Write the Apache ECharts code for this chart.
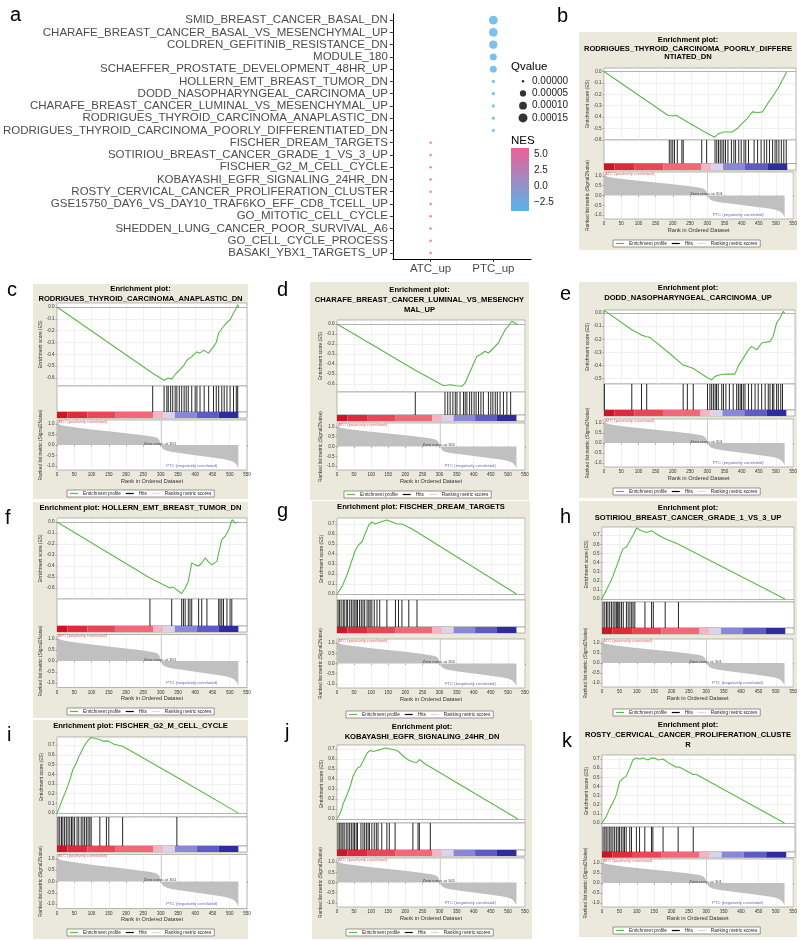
<!DOCTYPE html>
<html><head><meta charset="utf-8">
<script src="https://cdn.jsdelivr.net/npm/echarts@6/dist/echarts.min.js"></script>
<style>html,body{margin:0;padding:0;background:#fff}#chart{width:800px;height:941px}</style>
</head><body><div id="chart"></div>
<script>
// ---------------- Panel a data ----------------
const termNames = ['SMID_BREAST_CANCER_BASAL_DN','CHARAFE_BREAST_CANCER_BASAL_VS_MESENCHYMAL_UP','COLDREN_GEFITINIB_RESISTANCE_DN','MODULE_180','SCHAEFFER_PROSTATE_DEVELOPMENT_48HR_UP','HOLLERN_EMT_BREAST_TUMOR_DN','DODD_NASOPHARYNGEAL_CARCINOMA_UP','CHARAFE_BREAST_CANCER_LUMINAL_VS_MESENCHYMAL_UP','RODRIGUES_THYROID_CARCINOMA_ANAPLASTIC_DN','RODRIGUES_THYROID_CARCINOMA_POORLY_DIFFERENTIATED_DN','FISCHER_DREAM_TARGETS','SOTIRIOU_BREAST_CANCER_GRADE_1_VS_3_UP','FISCHER_G2_M_CELL_CYCLE','KOBAYASHI_EGFR_SIGNALING_24HR_DN','ROSTY_CERVICAL_CANCER_PROLIFERATION_CLUSTER','GSE15750_DAY6_VS_DAY10_TRAF6KO_EFF_CD8_TCELL_UP','GO_MITOTIC_CELL_CYCLE','SHEDDEN_LUNG_CANCER_POOR_SURVIVAL_A6','GO_CELL_CYCLE_PROCESS','BASAKI_YBX1_TARGETS_UP'];
const groupNames = ['ATC_up','PTC_up'];
const termGroup = ['PTC_up','PTC_up','PTC_up','PTC_up','PTC_up','PTC_up','PTC_up','PTC_up','PTC_up','PTC_up','ATC_up','ATC_up','ATC_up','ATC_up','ATC_up','ATC_up','ATC_up','ATC_up','ATC_up','ATC_up'];
const termQ = [0.000140,0.000135,0.000115,0.000070,0.000070,0.000002,0.000002,0.000001,0.000001,0.000001,0,0,0,0,0,0,0,0,0,0];
const termNES = [-3.7,-3.8,-3.7,-3.6,-3.6,-3.8,-3.9,-3.8,-3.9,-3.8,5.9,5.8,5.9,5.8,5.7,5.6,5.8,5.7,5.9,5.6];
const qLegendValues = [0, 0.00005, 0.00010, 0.00015];
const nesTicks = [-2.5, 0, 2.5, 5];
const nesRange = [-3.9, 5.95];

// ---------------- shared GSEA data ----------------
const metricRanks  = [0,3,10,30,60,100,150,200,250,275,288,295,299,301,303,308,318,335,360,400,450,480,500,512,520,525];
const metricValues = [1.08,1.02,0.96,0.9,0.83,0.75,0.66,0.57,0.47,0.41,0.36,0.28,0.14,0,-0.1,-0.2,-0.28,-0.34,-0.4,-0.49,-0.6,-0.67,-0.74,-0.82,-0.95,-1.12];
const cbarStarts = [0,30,88,170,278,307,341,404,468];
const cbarEnds   = [30,88,170,278,307,341,404,468,525];
const cbarColors = ['#cc1626','#df2a3c','#ea4656','#f26878','#f6b4c4','#dcd2ec','#8a88d6','#5e5cc2','#2e2c9e'];
const rankXTicksMax = 550;
const zeroCross = 301;
const esTicksNeg6 = [0,-0.1,-0.2,-0.3,-0.4,-0.5,-0.6];
const esTicksNeg5 = [0,-0.1,-0.2,-0.3,-0.4,-0.5];
const esTicksPos7 = [0,0.1,0.2,0.3,0.4,0.5,0.6,0.7];
const metricTicks = [-1,-0.5,0,0.5,1];
const rankNotes = ['ATC (positively correlated)','Zero cross at 301','PTC (negatively correlated)'];
const rankNoteRanks = [3, 298, 390];
const rankNoteValues = [1.13, 0.07, -1.0];

// ---------------- per-panel GSEA data ----------------
const titleB = ['Enrichment plot:','RODRIGUES_THYROID_CARCINOMA_POORLY_DIFFERE','NTIATED_DN'];
const esRanksB  = [0,183,197,207,221,260,289,317,328,343,367,382,396,411,425,440,454,469,483,498,513,524];
const esValuesB = [0,-0.383,-0.39,-0.383,-0.41,-0.48,-0.53,-0.575,-0.545,-0.53,-0.53,-0.5,-0.455,-0.41,-0.354,-0.36,-0.354,-0.28,-0.22,-0.15,-0.064,0];
const hitsB = [187,192,197,202,210,223,227,280,294,318,323,328,333,338,343,348,355,365,372,377,386,393,401,406,414,430,440,450,459,466,474,483,490,495,501,508,515,522];

const titleC = ['Enrichment plot:','RODRIGUES_THYROID_CARCINOMA_ANAPLASTIC_DN'];
const esRanksC  = [0,277,280,310,313,322,332,345,356,368,376,390,405,414,424,439,453,461,468,482,492,501,511,519,523,526];
const esValuesC = [0,-0.56,-0.55,-0.62,-0.634,-0.6,-0.61,-0.56,-0.53,-0.49,-0.45,-0.42,-0.38,-0.39,-0.365,-0.39,-0.335,-0.3,-0.22,-0.165,-0.13,-0.108,-0.05,-0.01,0.02,-0.005];
const hitsC = [277,310,318,322,329,335,342,347,354,361,368,374,380,390,400,405,414,426,439,453,461,468,477,484,492,501,511,519,523];

const titleD = ['Enrichment plot:','CHARAFE_BREAST_CANCER_LUMINAL_VS_MESENCHY','MAL_UP'];
const esRanksD  = [0,228,230,312,331,350,365,375,385,394,409,419,433,443,458,472,482,492,501,511,521,528];
const esValuesD = [0,-0.46,-0.45,-0.617,-0.607,-0.617,-0.623,-0.59,-0.507,-0.44,-0.323,-0.307,-0.273,-0.29,-0.24,-0.19,-0.123,-0.057,-0.023,0.027,0.01,-0.005];
const hitsD = [229,316,324,331,339,346,351,360,370,375,380,388,394,401,407,414,421,428,443,450,456,463,469,477,487,497,508];

const titleE = ['Enrichment plot:','DODD_NASOPHARYNGEAL_CARCINOMA_UP'];
const esRanksE  = [0,1,80,81,108,109,123,124,132,190,227,228,239,240,256,257,297,310,320,334,353,377,386,401,416,425,440,454,478,487,497,507,516,520];
const esValuesE = [0,0.02,-0.127,-0.112,-0.168,-0.153,-0.18,-0.167,-0.185,-0.31,-0.395,-0.38,-0.405,-0.39,-0.42,-0.405,-0.49,-0.508,-0.482,-0.47,-0.465,-0.465,-0.406,-0.343,-0.28,-0.254,-0.28,-0.228,-0.216,-0.178,-0.076,-0.038,0.013,0];
const hitsE = [1,80,108,123,228,240,257,298,305,310,315,320,324,329,339,344,351,361,372,382,387,392,396,401,406,416,425,435,444,454,464,473,478,485,489,497,502,509,514];

const titleF = ['Enrichment plot: HOLLERN_EMT_BREAST_TUMOR_DN'];
const esRanksF  = [0,269,274,327,335,361,371,380,390,400,410,419,429,438,448,463,468,477,487,497,507,517,523];
const esValuesF = [0,-0.51,-0.494,-0.6,-0.59,-0.65,-0.6,-0.54,-0.373,-0.39,-0.4,-0.373,-0.327,-0.36,-0.39,-0.358,-0.28,-0.16,-0.13,-0.07,0.02,-0.01,0];
const hitsF = [269,332,361,366,371,380,385,390,410,419,434,468,472,477,482,492,501,506];

const titleG = ['Enrichment plot: FISCHER_DREAM_TARGETS'];
const esRanksG  = [0,15,29,44,54,63,73,83,93,102,112,127,146,161,175,190,214,234,525];
const esValuesG = [0,0.076,0.19,0.34,0.44,0.49,0.52,0.61,0.69,0.72,0.7,0.72,0.74,0.72,0.7,0.7,0.66,0.62,0];
const hitsG = [3,7,12,18,21,27,31,37,42,47,52,56,60,66,71,76,81,88,93,97,102,109,117,125,146,171,180,190,210,234];

const titleH = ['Enrichment plot:','SOTIRIOU_BREAST_CANCER_GRADE_1_VS_3_UP'];
const esRanksH  = [0,3,13,27,41,51,60,70,80,89,99,113,128,142,157,181,219,524];
const esValuesH = [0,0.03,0.1,0.21,0.35,0.46,0.55,0.57,0.64,0.7,0.78,0.75,0.73,0.75,0.71,0.66,0.6,0];
const hitsH = [3,8,13,17,22,27,32,37,41,44,48,51,56,61,70,75,80,85,89,94,123,142,147,181,219];

const titleI = ['Enrichment plot: FISCHER_G2_M_CELL_CYCLE'];
const esRanksI  = [0,3,8,17,27,37,46,56,63,70,80,90,99,110,124,135,143,150,165,190,347,348,525];
const esValuesI = [0,0.02,0.07,0.155,0.24,0.34,0.45,0.52,0.58,0.63,0.7,0.75,0.78,0.77,0.76,0.74,0.745,0.74,0.71,0.69,0.37,0.385,0];
const hitsI = [3,8,13,17,22,27,32,37,42,46,51,58,63,70,75,80,85,90,95,99,124,143,150,190,347];

const titleJ = ['Enrichment plot:','KOBAYASHI_EGFR_SIGNALING_24HR_DN'];
const esRanksJ  = [0,10,19,29,39,47,54,60,68,78,88,97,107,117,127,141,156,170,180,195,209,222,224,234,237,241,243,258,273,529];
const esValuesJ = [0,0.06,0.16,0.24,0.33,0.43,0.475,0.51,0.525,0.59,0.66,0.685,0.675,0.685,0.694,0.71,0.7,0.69,0.675,0.625,0.59,0.57,0.585,0.565,0.58,0.595,0.585,0.55,0.52,0];
const hitsJ = [3,8,12,17,21,27,32,37,42,47,51,56,60,70,76,81,86,91,95,102,109,115,120,131,146,153,170,222,237,241,273];

const titleK = ['Enrichment plot:','ROSTY_CERVICAL_CANCER_PROLIFERATION_CLUSTE','R'];
const esRanksK  = [0,12,22,31,41,50,60,69,79,88,98,107,117,131,141,150,160,174,193,212,217,218,231,250,260,261,269,520];
const esValuesK = [0,0.07,0.16,0.22,0.31,0.45,0.49,0.51,0.6,0.69,0.71,0.7,0.71,0.69,0.71,0.71,0.69,0.7,0.65,0.61,0.6,0.615,0.59,0.55,0.53,0.545,0.53,0];
const hitsK = [3,8,12,17,22,26,31,36,41,46,50,55,60,64,69,79,84,98,107,122,141,145,174,217,260];

const legendNames = ['Enrichment profile','Hits','Ranking metric scores'];

// ---------------- layout ----------------
const FONT = "'Liberation Sans', Arial, Helvetica, sans-serif";
const panelData = {
  b:{title:titleB, r:esRanksB, v:esValuesB, hits:hitsB, ticks:esTicksNeg6},
  c:{title:titleC, r:esRanksC, v:esValuesC, hits:hitsC, ticks:esTicksNeg6},
  d:{title:titleD, r:esRanksD, v:esValuesD, hits:hitsD, ticks:esTicksNeg6},
  e:{title:titleE, r:esRanksE, v:esValuesE, hits:hitsE, ticks:esTicksNeg5},
  f:{title:titleF, r:esRanksF, v:esValuesF, hits:hitsF, ticks:esTicksNeg6},
  g:{title:titleG, r:esRanksG, v:esValuesG, hits:hitsG, ticks:esTicksPos7},
  h:{title:titleH, r:esRanksH, v:esValuesH, hits:hitsH, ticks:esTicksPos7},
  i:{title:titleI, r:esRanksI, v:esValuesI, hits:hitsI, ticks:esTicksPos7},
  j:{title:titleJ, r:esRanksJ, v:esValuesJ, hits:hitsJ, ticks:esTicksPos7},
  k:{title:titleK, r:esRanksK, v:esValuesK, hits:hitsK, ticks:esTicksPos7}
};
const panelLayouts = [
 {key:'b', box:[579,32,797,250], titleY:40, lh:8.6, px:[604,796], es:[68,140], esRange:[-0.6,0.03], hits:[140,163.5], cbar:[163.5,170], rank:[172,219], legendY:244, label:[557,6.5]},
 {key:'c', box:[33,284,248,499], titleY:289, lh:9.5, px:[57,247], es:[303,386], esRange:[-0.668,0.034], hits:[386,412], cbar:[412,418], rank:[420,470], legendY:494, label:[7,280.5]},
 {key:'d', box:[310,282,529,500], titleY:290, lh:10, px:[337,525], es:[320,392], esRange:[-0.68,0.04], hits:[392,415], cbar:[415,421], rank:[423,470], legendY:495, label:[277,280.5]},
 {key:'e', box:[579,282,797,498], titleY:288, lh:10, px:[604,795], es:[310,384], esRange:[-0.54,0.023], hits:[384,410], cbar:[410,416], rank:[419,467], legendY:492, label:[560,284]},
 {key:'f', box:[33,502,248,718], titleY:508, lh:10, px:[57,247], es:[518,599], esRange:[-0.7,0.036], hits:[599,626], cbar:[626,632], rank:[634.5,687.5], legendY:712, label:[5,508.5]},
 {key:'g', box:[312,501,530,720], titleY:507, lh:10, px:[337,525], es:[518,600], esRange:[-0.06,0.76], hits:[600,627], cbar:[627,633], rank:[639,688], legendY:715, label:[277,501]},
 {key:'h', box:[579,501,797,719], titleY:508, lh:10, px:[602,794], es:[527,602], esRange:[-0.033,0.79], hits:[602,628], cbar:[628,634], rank:[639,687], legendY:713, label:[560,507.5]},
 {key:'i', box:[33,720,248,939], titleY:726, lh:10, px:[57,247], es:[737,817], esRange:[-0.04,0.785], hits:[817,846], cbar:[846,852], rank:[854.5,908.5], legendY:933, label:[7,725.5]},
 {key:'j', box:[312,720,532,939], titleY:727, lh:10, px:[337,525], es:[745,823], esRange:[-0.04,0.74], hits:[823,850], cbar:[850,856], rank:[858,907], legendY:933, label:[285,722]},
 {key:'k', box:[579,719,797,937], titleY:725, lh:10, px:[602,795], es:[755,827], esRange:[-0.044,0.744], hits:[827,852], cbar:[852,857.5], rank:[859,907], legendY:931, label:[562,731.5]}
];

function qToSize(q){ return 2.5 + 6.5*Math.sqrt(Math.max(q,0)/0.00015); }
const fmt1 = v => (Math.abs(v) < 1e-9 ? 0 : v).toFixed(1);

const grid=[], xAxis=[], yAxis=[], series=[], title=[], legend=[], bg=[];

// ---------------- Panel a ----------------
grid.push({left:391, top:14, width:140, height:245});
xAxis.push({type:'value', gridIndex:0, min:0.4, max:2.6,
  axisLine:{show:true, onZero:false, lineStyle:{color:'#000', width:1}},
  axisTick:{show:true, customValues:[1,2], length:3, lineStyle:{color:'#333'}},
  axisLabel:{customValues:[1,2], formatter:v=>groupNames[Math.round(v)-1], fontSize:11.5, color:'#4d4d4d', margin:3.5, fontFamily:FONT},
  splitLine:{show:false}});
yAxis.push({type:'category', gridIndex:0, data:termNames, inverse:true,
  axisLine:{show:true, onZero:false, lineStyle:{color:'#000', width:1}},
  axisTick:{show:true, alignWithLabel:true, interval:0, length:3, lineStyle:{color:'#333'}},
  axisLabel:{interval:0, fontSize:11.5, color:'#4d4d4d', margin:5, fontFamily:FONT}, splitLine:{show:false}});
series.push({type:'scatter', xAxisIndex:0, yAxisIndex:0, silent:true,
  data:termNames.map((n,i)=>[groupNames.indexOf(termGroup[i])+1, i, termQ[i], termNES[i]]),
  encode:{x:0, y:1}, symbolSize:val=>qToSize(val[2])});

// Qvalue legend
grid.push({left:518, top:75, width:10, height:49});
xAxis.push({type:'value', gridIndex:1, min:0, max:2, show:false});
yAxis.push({type:'category', gridIndex:1, data:qLegendValues.map(q=>q.toFixed(5)), inverse:true, position:'right',
  axisLine:{show:false}, axisTick:{show:false}, splitLine:{show:false},
  axisLabel:{interval:0, fontSize:10, color:'#222', margin:4, fontFamily:FONT}});
series.push({type:'scatter', xAxisIndex:1, yAxisIndex:1, silent:true, itemStyle:{color:'#000'},
  data:qLegendValues.map((q,i)=>[1,i,q]), encode:{x:0,y:1}, symbolSize:val=>qToSize(val[2])});

// NES colorbar
const nesLow = '#56B4E9', nesHigh = '#EF5F9A';
grid.push({left:511, top:148, width:18, height:63});
xAxis.push({type:'value', gridIndex:2, min:0, max:1, show:false});
yAxis.push({type:'value', gridIndex:2, min:nesRange[0], max:nesRange[1], position:'right',
  axisLine:{show:false}, axisTick:{show:false}, splitLine:{show:false},
  axisLabel:{customValues:nesTicks, formatter:v=>fmt1(v).replace('-', '\u2212'), fontSize:10, color:'#222', margin:5, fontFamily:FONT}});
series.push({type:'custom', xAxisIndex:2, yAxisIndex:2, silent:true, data:[[0,nesRange[0]]], encode:{x:0,y:1},
  renderItem:(params, api)=>{
    const a = api.coord([0, nesRange[1]]), b = api.coord([1, nesRange[0]]);
    return {type:'rect', shape:{x:a[0], y:a[1], width:b[0]-a[0], height:b[1]-a[1]},
      style:{fill:{type:'linear', x:0, y:0, x2:0, y2:1, colorStops:[{offset:0, color:nesHigh},{offset:1, color:nesLow}]}}};
  }});

title.push({text:'a', left:10, top:5.5, padding:0, textStyle:{fontSize:20, fontWeight:'normal', color:'#000', fontFamily:FONT}});
title.push({text:'Qvalue', left:511, top:61, padding:0, textStyle:{fontSize:11.5, fontWeight:'normal', color:'#000', fontFamily:FONT}});
title.push({text:'NES', left:511, top:135, padding:0, textStyle:{fontSize:11.5, fontWeight:'normal', color:'#000', fontFamily:FONT}});

// ---------------- GSEA panels ----------------
const ES_GREEN = '#58bb46';
function renderHit(params, api){
  const cs = params.coordSys;
  const x = api.coord([api.value(0), 0.5])[0];
  return {type:'line', shape:{x1:x, y1:cs.y, x2:x, y2:cs.y+cs.height}, style:{stroke:'#000', lineWidth:0.85}};
}
function renderCbar(params, api){
  const p0 = api.coord([api.value(0), 1]), p1 = api.coord([api.value(1), 0]);
  return {type:'rect', shape:{x:p0[0], y:p0[1], width:p1[0]-p0[0], height:p1[1]-p0[1]}, style:{fill:cbarColors[api.value(2)]}};
}
const tiny = {fontSize:4.5, color:'#333', fontFamily:FONT};

panelLayouts.forEach(p=>{
  const d = panelData[p.key];
  const g0 = grid.length;
  const L = p.px[0], W = p.px[1]-p.px[0];
  const mk = (t,b)=>({left:L, width:W, top:t, height:b-t, show:true, backgroundColor:'#fff', borderColor:'#8a8a8a', borderWidth:0.6});
  grid.push(mk(p.es[0],p.es[1]), mk(p.hits[0],p.hits[1]), mk(p.cbar[0],p.cbar[1]), mk(p.rank[0],p.rank[1]));
  const gridLine = {show:true, lineStyle:{color:'#e3e3e3', width:0.5}};
  xAxis.push({type:'value', gridIndex:g0, min:0, max:rankXTicksMax, interval:50, axisLine:{show:false}, axisTick:{show:false}, axisLabel:{show:false}, splitLine:gridLine});
  yAxis.push({type:'value', gridIndex:g0, min:p.esRange[0], max:p.esRange[1], axisLine:{show:false},
    axisTick:{show:true, customValues:d.ticks, length:1.5, lineStyle:{color:'#666', width:0.5}},
    axisLabel:Object.assign({customValues:d.ticks, formatter:fmt1, margin:2.5}, tiny), splitLine:gridLine,
    name:'Enrichment score (ES)', nameLocation:'middle', nameGap:13, nameTextStyle:{fontSize:4.8, color:'#333', fontFamily:FONT}});
  xAxis.push({type:'value', gridIndex:g0+1, min:0, max:rankXTicksMax, show:false});
  yAxis.push({type:'value', gridIndex:g0+1, min:0, max:1, show:false});
  xAxis.push({type:'value', gridIndex:g0+2, min:0, max:rankXTicksMax, show:false});
  yAxis.push({type:'value', gridIndex:g0+2, min:0, max:1, show:false});
  xAxis.push({type:'value', gridIndex:g0+3, min:0, max:rankXTicksMax, interval:50, axisLine:{show:false},
    axisTick:{show:true, length:1.5, lineStyle:{color:'#666', width:0.5}},
    axisLabel:Object.assign({margin:2.5}, tiny), splitLine:gridLine,
    name:'Rank in Ordered Dataset', nameLocation:'middle', nameGap:8, nameTextStyle:{fontSize:5.6, color:'#333', fontFamily:FONT}});
  yAxis.push({type:'value', gridIndex:g0+3, min:-1.2, max:1.2, axisLine:{show:false},
    axisTick:{show:true, customValues:metricTicks, length:1.5, lineStyle:{color:'#666', width:0.5}},
    axisLabel:Object.assign({customValues:metricTicks, formatter:fmt1, margin:2.5}, tiny), splitLine:{show:false},
    name:'Ranked list metric (Signal2Noise)', nameLocation:'middle', nameGap:13, nameTextStyle:{fontSize:4.8, color:'#333', fontFamily:FONT}});

  series.push({type:'line', name:legendNames[0], xAxisIndex:g0, yAxisIndex:g0, silent:true, symbol:'none',
    data:d.r.map((r,i)=>[r, d.v[i]]), lineStyle:{color:ES_GREEN, width:1.1}, itemStyle:{color:ES_GREEN},
    markLine:{silent:true, symbol:['none','none'], label:{show:false}, lineStyle:{color:'#8a8a8a', width:0.6, type:'solid'}, data:[{yAxis:0}]}});
  series.push({type:'custom', name:legendNames[1], xAxisIndex:g0+1, yAxisIndex:g0+1, silent:true, itemStyle:{color:'#000'},
    data:d.hits.map(h=>[h,0.5]), encode:{x:0,y:1}, renderItem:renderHit});
  series.push({type:'custom', xAxisIndex:g0+2, yAxisIndex:g0+2, silent:true,
    data:cbarStarts.map((s,i)=>[s, cbarEnds[i], i]), encode:{x:[0,1]}, renderItem:renderCbar});
  series.push({type:'line', name:legendNames[2], xAxisIndex:g0+3, yAxisIndex:g0+3, silent:true, symbol:'none',
    data:metricRanks.map((r,i)=>[r, metricValues[i]]), lineStyle:{width:0, color:'#c0c0c0'}, itemStyle:{color:'#d6d6d6'},
    areaStyle:{color:'#c0c0c0', opacity:1},
    markLine:{silent:true, symbol:['none','none'], label:{show:false}, lineStyle:{color:'#b8b8b8', width:0.6, type:'solid'},
      data:[[{coord:[zeroCross, 1.2]},{coord:[zeroCross, 0]}]]}});
  const noteStyles = [{color:'#e03a3a', align:'left'},{color:'#111', align:'center'},{color:'#3a3ab4', align:'center'}];
  series.push({type:'scatter', xAxisIndex:g0+3, yAxisIndex:g0+3, silent:true, symbolSize:0.01, z:5,
    data:rankNotes.map((t,i)=>({value:[rankNoteRanks[i], rankNoteValues[i]], name:t,
      label:{show:true, position:'inside', formatter:t, fontSize:4.2, color:noteStyles[i].color, align:noteStyles[i].align, verticalAlign:'middle', fontFamily:FONT}}))});

  bg.push({type:'rect', z:-100, silent:true, shape:{x:p.box[0], y:p.box[1], width:p.box[2]-p.box[0], height:p.box[3]-p.box[1]}, style:{fill:'#ebe9dc'}});
  title.push({text:d.title.join('\n'), left:(p.box[0]+p.box[2])/2, top:p.titleY - p.lh/2, textAlign:'center', padding:0,
    textStyle:{fontSize:7.6, fontWeight:'bold', color:'#000', lineHeight:p.lh, fontFamily:FONT}});
  title.push({text:p.key, left:p.label[0], top:p.label[1], padding:0, textStyle:{fontSize:20, fontWeight:'normal', color:'#000', fontFamily:FONT}});
  legend.push({left:p.box[0]+34, top:p.legendY-4, selectedMode:false, orient:'horizontal',
    itemWidth:8, itemHeight:1.2, itemGap:5, padding:[1,3,1,3], borderColor:'#555', borderWidth:0.6, backgroundColor:'#fff',
    textStyle:{fontSize:4.7, color:'#222', fontFamily:FONT},
    data:[{name:legendNames[0], icon:'rect', itemStyle:{color:ES_GREEN}},
          {name:legendNames[1], icon:'rect', itemStyle:{color:'#000'}},
          {name:legendNames[2], icon:'rect', itemStyle:{color:'#dadada'}}]});
});

const chart = echarts.init(document.getElementById('chart'), null, {renderer:'canvas'});
chart.setOption({
  animation:false, backgroundColor:'#fff',
  title, legend, grid, xAxis, yAxis, series,
  visualMap:[{type:'continuous', show:false, seriesIndex:0, dimension:3, min:nesRange[0], max:nesRange[1], inRange:{color:[nesLow, nesHigh]}}],
  graphic:{elements:bg}
});
</script></body></html>
